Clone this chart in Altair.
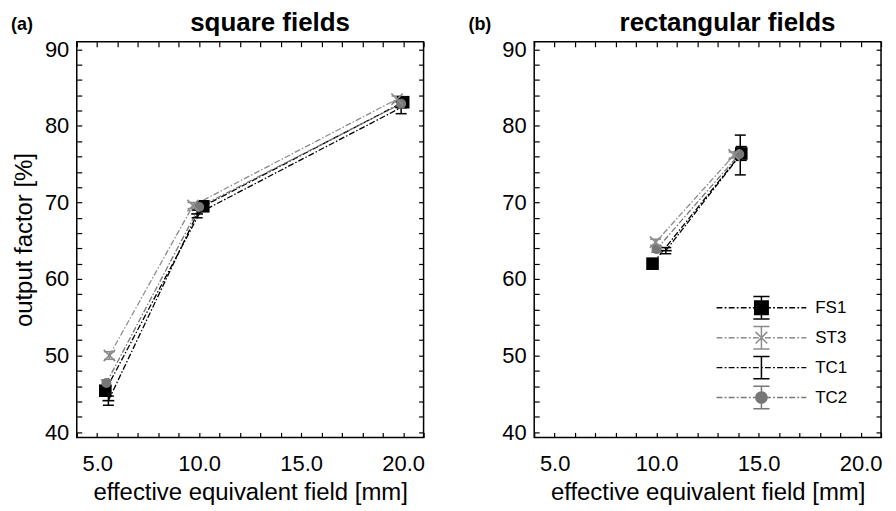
import altair as alt
import pandas as pd

FONT = "Liberation Sans"

series = ["FS1", "ST3", "TC1", "TC2"]
colors = ["#000000", "#8c8c8c", "#000000", "#777777"]

x_ticks = list(range(4, 22))
y_ticks = list(range(40, 92, 2))

# (a) square fields
sq_fs1_x = [5.4, 10.2, 20.0]
sq_fs1_y = [45.4, 69.5, 83.1]
sq_fs1_e = [0.6, 0.5, 0.5]
sq_st3_x = [5.6, 9.7, 19.7]
sq_st3_y = [50.0, 69.6, 83.5]
sq_st3_e = [0.5, 0.4, 0.4]
sq_tc1_x = [5.55, 9.9, 19.9]
sq_tc1_y = [44.1, 68.5, 82.4]
sq_tc1_e = [0.6, 0.5, 0.8]
sq_tc2_x = [5.45, 10.0, 19.9]
sq_tc2_y = [46.4, 69.4, 82.9]
sq_tc2_e = [0.4, 0.4, 0.4]

# (b) rectangular fields
re_fs1_x = [9.8, 14.15]
re_fs1_y = [62.0, 76.4]
re_fs1_e = [0.5, 0.9]
re_st3_x = [9.95, 13.8]
re_st3_y = [64.8, 76.2]
re_st3_e = [0.4, 0.4]
re_tc1_x = [10.45, 14.1]
re_tc1_y = [63.7, 76.2]
re_tc1_e = [0.4, 2.6]
re_tc2_x = [10.0, 14.05]
re_tc2_y = [63.9, 76.3]
re_tc2_e = [0.4, 0.4]


def make_df(groups):
    rows = []
    for name, xs, ys, es in groups:
        for x, y, e in zip(xs, ys, es):
            rows.append({"series": name, "x": x, "y": y, "e": e})
    return pd.DataFrame(rows)


df_a = make_df([("FS1", sq_fs1_x, sq_fs1_y, sq_fs1_e), ("ST3", sq_st3_x, sq_st3_y, sq_st3_e),
                ("TC1", sq_tc1_x, sq_tc1_y, sq_tc1_e), ("TC2", sq_tc2_x, sq_tc2_y, sq_tc2_e)])
df_b = make_df([("FS1", re_fs1_x, re_fs1_y, re_fs1_e), ("ST3", re_st3_x, re_st3_y, re_st3_e),
                ("TC1", re_tc1_x, re_tc1_y, re_tc1_e), ("TC2", re_tc2_x, re_tc2_y, re_tc2_e)])

xs = alt.Scale(domain=[4, 21], nice=False, zero=False)
ys = alt.Scale(domain=[39.3, 91], nice=False, zero=False)

DASH = [6, 2, 1.5, 2]


def ax(orient, labels=True, title=None):
    horiz = orient in ("bottom", "top")
    kw = dict(orient=orient, values=x_ticks if horiz else y_ticks, offset=-5, tickSize=5,
              tickColor="black", tickWidth=1.2, domain=False, grid=False, labelOverlap=False)
    if labels:
        kw.update(labelFont=FONT, labelFontSize=22, labelColor="black", labelFlush=False,
                  labelPadding=16 if horiz else 8,
                  labelExpr=("datum.value % 5 == 0 ? format(datum.value, '.1f') : ''" if horiz
                             else "datum.value % 10 == 0 ? format(datum.value, 'd') : ''"))
    else:
        kw.update(labels=False)
    if title:
        kw.update(title=title, titleFont=FONT, titleFontSize=24, titleFontWeight="normal",
                  titleColor="black", titlePadding=6 if horiz else 8)
    else:
        kw.update(title=None)
    return alt.Axis(**kw)


def seg_path():
    parts = []
    x = -1.0
    pattern = [0.13, 0.05, 0.04, 0.05]
    i = 0
    while x < 1.0:
        L = pattern[i % 4]
        if i % 2 == 0:
            x1 = min(x + L, 1.0)
            parts.append(f"M{x:.3f},0L{x1:.3f},0")
        x += L
        i += 1
    return "".join(parts)


LINE = seg_path()
EB = "M0,-0.25L0,0.25M-0.18,-0.25L0.18,-0.25M-0.18,0.25L0.18,0.25"
legend_paths = [
    LINE + EB + "M-0.15,-0.15L0.15,-0.15L0.15,0.15L-0.15,0.15Z",
    LINE + EB + "M-0.13,-0.13L0.13,0.13M-0.13,0.13L0.13,-0.13",
    LINE + EB,
    LINE + EB + "M0.125,0A0.125,0.125 0 1,1 -0.125,0A0.125,0.125 0 1,1 0.125,0Z",
]

X_PATH = "M-1,-1L1,1M-1,1L1,-1"
H_PATH = "M-1,0L1,0"


def panel(df, title, tag, ytitle, with_legend):
    base = alt.Chart(df)
    # line/error-bar colour scale (domain listed in reverse so it is not merged with the legend scales)
    color = alt.Color("series:N", scale=alt.Scale(domain=series[::-1], range=colors[::-1]), legend=None)
    xn = alt.X("x:Q", scale=xs, axis=None)
    yn = alt.Y("y:Q", scale=ys, axis=None)

    line = base.mark_line(strokeDash=DASH, strokeWidth=1.3).encode(
        x=alt.X("x:Q", scale=xs, axis=ax("bottom", True, "effective equivalent field [mm]")),
        y=alt.Y("y:Q", scale=ys, axis=ax("left", True, ytitle)),
        color=color,
    )
    eb = base.transform_calculate(lo="datum.y - datum.e", hi="datum.y + datum.e")
    rule = eb.mark_rule(strokeWidth=1.5).encode(
        x=alt.X("x:Q", scale=xs, axis=ax("top", False)),
        y=alt.Y("lo:Q", scale=ys, axis=ax("right", False)),
        y2="hi:Q",
        color=color,
    )
    cap_lo = eb.mark_tick(orient="horizontal", size=11, thickness=1.5, opacity=1).encode(
        x=xn, y=alt.Y("lo:Q", scale=ys, axis=None), color=color)
    cap_hi = eb.mark_tick(orient="horizontal", size=11, thickness=1.5, opacity=1).encode(
        x=xn, y=alt.Y("hi:Q", scale=ys, axis=None), color=color)

    fs1 = base.transform_filter("datum.series == 'FS1'").mark_point(
        shape="square", filled=True, size=160, color="#000000", opacity=1).encode(x=xn, y=yn)
    tc1 = base.transform_filter("datum.series == 'TC1'").mark_point(
        shape=H_PATH, filled=False, size=140, color="#000000", strokeWidth=1.6, opacity=1).encode(x=xn, y=yn)
    tc2 = base.transform_filter("datum.series == 'TC2'").mark_point(
        shape="circle", filled=True, size=100, color="#777777", opacity=1).encode(x=xn, y=yn)
    st3 = base.transform_filter("datum.series == 'ST3'").mark_point(
        shape=X_PATH, filled=False, size=130, color="#8c8c8c", strokeWidth=1.6, opacity=1).encode(x=xn, y=yn)

    tag_df = pd.DataFrame({"tag": [tag]})
    tag_txt = alt.Chart(tag_df).mark_text(
        font=FONT, fontSize=18, fontWeight="bold", align="left", baseline="alphabetic",
        color="black").encode(x=alt.value(-66), y=alt.value(-12), text="tag:N")

    layers = [line, rule, cap_lo, cap_hi, fs1, tc1, tc2, st3, tag_txt]

    if with_legend:
        L = alt.Legend(title=None, orient="none", legendX=182, legendY=254, padding=0,
                       labelFont=FONT, labelFontSize=17, labelColor="black", labelOffset=8,
                       symbolSize=8100, symbolStrokeWidth=1.5, clipHeight=26, rowPadding=4,
                       symbolOpacity=1)
        # legend-only layer: its own marks are pushed outside the clipped plot area
        leg = base.transform_calculate(xo="datum.x + 1000").mark_point(
            filled=True, opacity=1, strokeWidth=1.5, size=10, clip=True).encode(
            x=alt.X("xo:Q", scale=xs, axis=None), y=yn,
            shape=alt.Shape("series:N", scale=alt.Scale(domain=series, range=legend_paths), legend=L),
            fill=alt.Fill("series:N", scale=alt.Scale(domain=series, range=colors), legend=L),
            stroke=alt.Stroke("series:N", scale=alt.Scale(domain=series, range=colors), legend=L),
        )
        layers.append(leg)

    return alt.layer(*layers).resolve_axis(x="independent", y="independent").properties(
        width=348, height=397,
        title=alt.Title(title, font=FONT, fontSize=26, fontWeight="bold", color="black",
                        anchor="middle", frame="group", dx=20, offset=-20),
    )


pa = panel(df_a, "square fields", "(a)", "output factor [%]", False)
pb = panel(df_b, "rectangular fields", "(b)", None, True)

chart = alt.hconcat(pa, pb, spacing=111, bounds="flush").resolve_scale(
    color="independent", fill="independent", stroke="independent", shape="independent"
).resolve_legend(
    fill="independent", stroke="independent", shape="independent"
).configure_view(
    stroke="black", strokeWidth=1.5
).properties(padding={"left": 2, "top": 0, "right": 5, "bottom": 2}, background="white")

chart.save("out.html", embed_options={"renderer": "svg", "actions": False})
